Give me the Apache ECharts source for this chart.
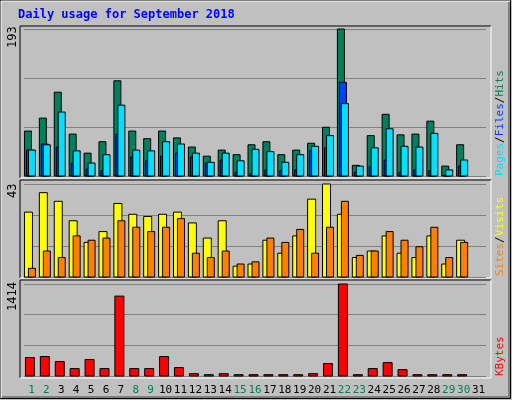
<!DOCTYPE html>
<html>
<head>
<meta charset="utf-8">
<script src="https://cdn.jsdelivr.net/npm/echarts@6/dist/echarts.min.js"></script>
<style>html,body{margin:0;padding:0;background:#c0c0c0}#chart{width:512px;height:400px}</style>
</head>
<body>
<div id="chart"></div>
<script>
var days = [];
for (var d = 1; d <= 31; d++) days.push(String(d));
var weekendDays = ['1','2','8','9','15','16','22','23','29','30'];
// top panel
var hits  = [59,76,110,55,30,45,125,59,49,59,50,38,26,34,28,41,45,28,34,43,64,193,14,53,81,54,55,72,13,41,0];
var files = [34,41,84,33,17,28,93,34,33,45,42,30,18,30,20,35,32,18,28,39,53,95,13,37,62,39,38,56,8,21,0];
var pages = [34,42,38,17,9,7,55,25,20,26,30,25,17,21,5,3,8,7,8,33,37,123,5,12,21,5,8,7,1,13,0];
// middle panel
var visits = [30,39,35,26,16,21,34,29,28,29,30,25,18,26,5,6,17,11,19,36,43,29,9,12,19,11,9,19,6,17,0];
var sites  = [4,12,9,19,17,18,26,23,21,23,27,11,9,12,6,7,18,16,22,11,23,35,10,12,21,17,14,23,9,16,0];
// bottom panel
var kbytes = [284,299,222,114,253,114,1228,114,114,299,129,36,20,36,20,20,20,20,20,36,191,1414,20,114,206,98,20,20,20,20,0];

var maxTop = 193, maxMid = 43, maxBot = 1414;
var L = 24, W = 462;
var MONO = '"DejaVu Sans Mono"';

var chart = echarts.init(document.getElementById('chart'));

// bar drawn with offset (px) relative to category center
function barSeries(name, data, idx, x0, x1, color) {
  return {
    type: 'custom', name: name, xAxisIndex: idx, yAxisIndex: idx,
    data: data.map(function (v, i) { return [i, v]; }),
    renderItem: function (params, api) {
      var v = api.value(1);
      if (!v) return null;
      var top = api.coord([api.value(0), v]);
      var base = api.coord([api.value(0), 0]);
      return {
        type: 'rect',
        shape: { x: top[0] + x0, y: top[1], width: x1 - x0, height: base[1] - top[1] },
        style: { fill: color, stroke: '#000', lineWidth: 1 }
      };
    }
  };
}

function yAx(idx, max) {
  return { gridIndex: idx, type: 'value', min: 0, max: max, interval: max / 3,
    axisLabel: { show: false }, axisLine: { show: false }, axisTick: { show: false },
    splitLine: { lineStyle: { color: '#808080', width: 1 } } };
}
function xAx(idx, showLabel) {
  return { gridIndex: idx, type: 'category', data: days,
    axisLine: { show: false }, axisTick: { show: false },
    axisLabel: { show: showLabel, interval: 0, fontFamily: 'DejaVu Sans Mono', fontSize: 11, margin: 9,
      formatter: function (v) { return weekendDays.indexOf(v) >= 0 ? '{w|' + v + '}' : '{n|' + v + '}'; },
      rich: { w: { color: '#00805c', fontFamily: 'DejaVu Sans Mono', fontSize: 11 },
              n: { color: '#000', fontFamily: 'DejaVu Sans Mono', fontSize: 11 } } } };
}

var richSide = {
  hits: { fill: '#00805c', font: '11px ' + MONO },
  files: { fill: '#0040ff', font: '11px ' + MONO },
  pages: { fill: '#00e0ff', font: '11px ' + MONO },
  visits: { fill: '#ffff00', font: '11px ' + MONO },
  sites: { fill: '#ff8000', font: '11px ' + MONO },
  kb: { fill: '#ff0000', font: '11px ' + MONO },
  s: { fill: '#000', font: '11px ' + MONO }
};
function sideText(x, yBottom, parts) {
  return { type: 'text', x: x, y: yBottom, rotation: Math.PI / 2,
    style: { text: parts.map(function (p) { return '{' + p[1] + '|' + p[0] + '}'; }).join(''),
      rich: richSide, align: 'left', verticalAlign: 'middle' } };
}
function vText(x, yBottom, txt) {
  return { type: 'text', x: x, y: yBottom, rotation: Math.PI / 2,
    style: { text: txt, fill: '#000', font: '12px ' + MONO, align: 'left', verticalAlign: 'middle' } };
}

function frame(y0, y1) {
  return [
    { type: 'polyline', shape: { points: [[20, y1], [20, y0], [491, y0]] }, style: { stroke: '#000', lineWidth: 1, fill: null } },
    { type: 'polyline', shape: { points: [[20, y1], [491, y1], [491, y0]] }, style: { stroke: '#fff', lineWidth: 1, fill: null } }
  ];
}

var option = {
  backgroundColor: '#c0c0c0',
  animation: false,
  grid: [
    { left: L, width: W, top: 29, height: 147 },
    { left: L, width: W, top: 184, height: 93 },
    { left: L, width: W, top: 284, height: 92 }
  ],
  xAxis: [xAx(0, false), xAx(1, false), xAx(2, true)],
  yAxis: [yAx(0, maxTop), yAx(1, maxMid), yAx(2, maxBot)],
  series: [
    barSeries('Hits', hits, 0, -7, 0, '#00805c'),
    barSeries('Pages', pages, 0, -5, 2, '#0040ff'),
    barSeries('Files', files, 0, -3, 4, '#00e0ff'),
    barSeries('Visits', visits, 1, -7, 1, '#ffff00'),
    barSeries('Sites', sites, 1, -3, 4, '#ff8000'),
    barSeries('KBytes', kbytes, 2, -6, 3, '#ff0000')
  ],
  graphic: [
    { type: 'rect', shape: { x: 0.5, y: 0.5, width: 510, height: 398 }, style: { fill: null, stroke: '#000', lineWidth: 1 } },
    { type: 'polyline', shape: { points: [[1, 398], [1, 1], [510, 1]] }, style: { stroke: '#fff', lineWidth: 1, fill: null } },
    { type: 'polyline', shape: { points: [[2, 397], [509, 397], [509, 2]] }, style: { stroke: '#808080', lineWidth: 2, fill: null } },
    { type: 'text', x: 18, y: 9, style: { text: 'Daily usage for September 2018', fill: '#0000ff',
      font: 'bold 12px ' + MONO } }
  ].concat(frame(26, 178), frame(180, 278), frame(280, 378), [
    vText(13, 48, '193'),
    vText(13, 198, '43'),
    vText(13, 311, '1414'),
    sideText(500, 176, [['Pages', 'pages'], ['/', 's'], ['Files', 'files'], ['/', 's'], ['Hits', 'hits']]),
    sideText(500, 276, [['Sites', 'sites'], ['/', 's'], ['Visits', 'visits']]),
    sideText(500, 376, [['KBytes', 'kb']])
  ])
};
chart.setOption(option);
</script>
</body>
</html>
